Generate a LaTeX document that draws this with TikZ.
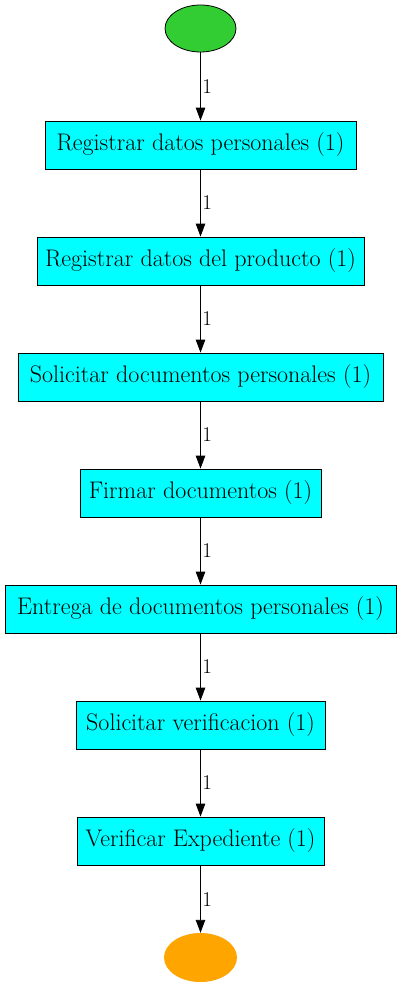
\documentclass[tikz,border=0pt]{standalone}
\usepackage{fontspec}
\usetikzlibrary{arrows.meta,shapes.geometric}
\definecolor{startgreen}{RGB}{50,205,50}
\definecolor{endorange}{RGB}{255,165,0}
\definecolor{boxcyan}{RGB}{0,255,255}
\begin{document}
\begin{tikzpicture}[x=1pt,y=-1pt,
  txt/.style={font=\fontsize{24}{27}\selectfont},
  stepbox/.style={txt,draw=black,fill=boxcyan,line width=0.8pt,minimum height=48pt,inner sep=0pt},
  startnode/.style={ellipse,draw=black,fill=startgreen,line width=0.8pt,minimum width=71pt,minimum height=47pt,inner sep=0pt},
  endnode/.style={ellipse,fill=endorange,minimum width=73pt,minimum height=49pt,inner sep=0pt},
  flow/.style={draw=black,line width=0.9pt,-{Triangle[length=13pt,width=9.5pt]}},
  lab/.style={font=\fontsize{21}{24}\selectfont,right,inner sep=1.5pt}]
\useasboundingbox (0,0) rectangle (401,987);
\node[startnode] (s) at (200.5,28.5) {};
\node[stepbox,minimum width=311pt] (b1) at (200.5,145) {Registrar datos personales (1)};
\node[stepbox,minimum width=327pt] (b2) at (200.5,261) {Registrar datos del producto (1)};
\node[stepbox,minimum width=365pt] (b3) at (200.5,377) {Solicitar documentos personales (1)};
\node[stepbox,minimum width=241pt] (b4) at (200.5,493) {Firmar documentos (1)};
\node[stepbox,minimum width=391pt] (b5) at (200.5,609) {Entrega de documentos personales (1)};
\node[stepbox,minimum width=249pt] (b6) at (200.5,725) {Solicitar verificacion (1)};
\node[stepbox,minimum width=247pt] (b7) at (200.5,841) {Verificar Expediente (1)};
\node[endnode] (e) at (200.5,957.5) {};
\draw[flow] (s) -- node[lab] {1} (b1);
\draw[flow] (b1) -- node[lab] {1} (b2);
\draw[flow] (b2) -- node[lab] {1} (b3);
\draw[flow] (b3) -- node[lab] {1} (b4);
\draw[flow] (b4) -- node[lab] {1} (b5);
\draw[flow] (b5) -- node[lab] {1} (b6);
\draw[flow] (b6) -- node[lab] {1} (b7);
\draw[flow] (b7) -- node[lab] {1} (e);
\end{tikzpicture}
\end{document}
